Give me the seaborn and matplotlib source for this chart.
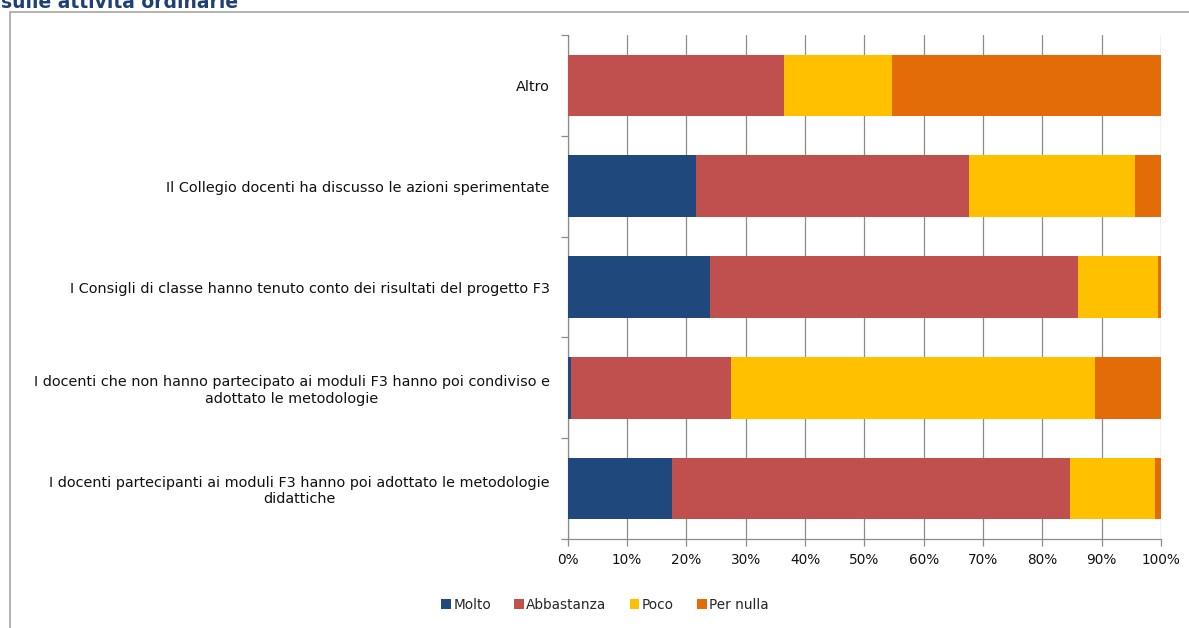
import numpy as np
import pandas as pd
import matplotlib
matplotlib.use("Agg")
import matplotlib.pyplot as plt
from matplotlib.patches import Rectangle
from matplotlib.ticker import MultipleLocator, PercentFormatter
import seaborn as sns

# Survey items (top to bottom)
categories = [
    "Altro",
    "Il Collegio docenti ha discusso le azioni sperimentate",
    "I Consigli di classe hanno tenuto conto dei risultati del progetto F3",
    "I docenti che non hanno partecipato ai moduli F3 hanno poi condiviso e\nadottato le metodologie",
    "I docenti partecipanti ai moduli F3 hanno poi adottato le metodologie\ndidattiche",
]

# Percentage of answers per level
molto = [0.0, 21.7, 24.0, 0.5, 17.5]
abbastanza = [36.4, 45.9, 62.0, 27.0, 67.2]
poco = [18.2, 28.1, 13.5, 61.3, 14.3]
per_nulla = [45.4, 4.3, 0.5, 11.2, 1.0]

levels = ["Molto", "Abbastanza", "Poco", "Per nulla"]
colors = ["#1F497D", "#C0504D", "#FFC000", "#E36C09"]

df = pd.DataFrame({
    "categoria": categories,
    "Molto": molto,
    "Abbastanza": abbastanza,
    "Poco": poco,
    "Per nulla": per_nulla,
})
cum = df[levels].cumsum(axis=1)

sns.set_theme(style="white")
plt.rcParams["font.family"] = ["DejaVu Sans"]

W, H = 1189, 628
fig = plt.figure(figsize=(W / 100, H / 100), dpi=100)
ax = fig.add_axes([567.7 / W, 1 - 539 / H, (1161 - 567.7) / W, (539 - 35) / H])

# Stacked bars: draw cumulative totals from the last level back to the first
for lvl, col in reversed(list(zip(levels, colors))):
    sns.barplot(data=df.assign(val=cum[lvl]), x="val", y="categoria",
                orient="h", color=col, width=0.61, ax=ax,
                saturation=1, edgecolor="none", linewidth=0, zorder=3)

ax.set_xlim(0, 100)
ax.set_ylim(4.5, -0.5)
ax.xaxis.set_major_locator(MultipleLocator(10))
ax.xaxis.set_major_formatter(PercentFormatter(decimals=0))
ax.grid(axis="x", color="#8c8c8c", linewidth=0.9, zorder=0)
ax.grid(axis="y", visible=False)
ax.set_axisbelow(True)

for side in ("top", "right"):
    ax.spines[side].set_visible(False)
for side in ("left", "bottom"):
    ax.spines[side].set_visible(True)
    ax.spines[side].set_color("#8c8c8c")
    ax.spines[side].set_linewidth(0.9)

# Category ticks on band boundaries, labels centred in each band
ax.set_yticks(np.arange(-0.5, 5.0, 1.0))
ax.set_yticklabels([])
ax.set_yticks(np.arange(5), minor=True)
ax.set_yticklabels(categories, minor=True, fontsize=10.4, color="#111111",
                   ha="right", multialignment="center")
ax.tick_params(axis="y", which="major", length=5, width=0.9, color="#8c8c8c",
               direction="out", left=True)
ax.tick_params(axis="y", which="minor", length=0, pad=13)
ax.tick_params(axis="x", length=5, width=0.9, color="#8c8c8c",
               direction="out", bottom=True, labelsize=9.8,
               labelcolor="#111111", pad=5)
ax.set_xlabel("")
ax.set_ylabel("")

# Legend along the bottom
handles = [Rectangle((0, 0), 1, 1, facecolor=c, edgecolor="none") for c in colors]
fig.legend(handles, levels, loc="center", bbox_to_anchor=(605 / W, 1 - 605 / H),
           ncol=4, frameon=False, fontsize=9.8, handlelength=0.7,
           handleheight=0.7, handletextpad=0.2, columnspacing=1.7)

# Chart frame
fig.patches.append(Rectangle((9.5 / W, -0.05), 1.1, 1 - 12 / H + 0.05,
                             transform=fig.transFigure, fill=False,
                             edgecolor="#a6a6a6", linewidth=1.2))

# Heading (partly above the top edge)
fig.text(1 / W, 1 - 8 / H, "sulle attività ordinarie", fontsize=13.5,
         fontweight="bold", color="#1F3F77", ha="left", va="baseline")

fig.savefig("out.png", dpi=100)
